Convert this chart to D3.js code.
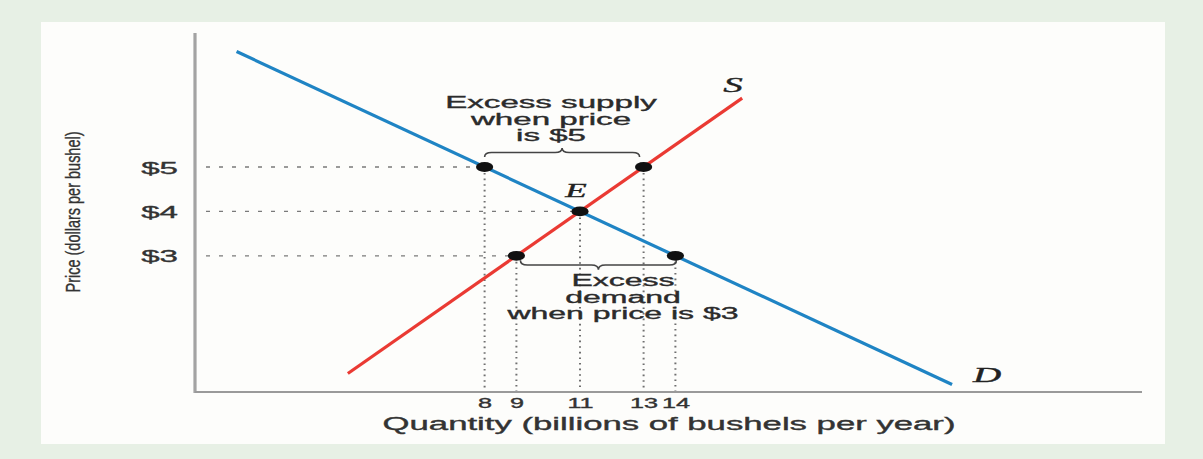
<!DOCTYPE html>
<html>
<head>
<meta charset="utf-8">
<script src="https://cdn.jsdelivr.net/npm/d3@7"></script>
<style>
  html, body { margin: 0; padding: 0; background: #e7f0e5; }
  svg { display: block; }
</style>
</head>
<body>
<svg id="chart" width="1203" height="459"></svg>
<script>
// Market for wheat: supply, demand and the surplus / shortage at off-equilibrium prices
const prices = [3, 4, 5];
const priceLabels = ["$3", "$4", "$5"];
const qtyTicks = [8, 9, 11, 13, 14];

// quantity supplied and demanded at $3, $4, $5
const supplyQty = [9, 11, 13];
const demandQty = [14, 11, 8];

// end points of the drawn curves {q: quantity, p: price}
const supplyLine = [{ q: 3.7, p: 0.35 }, { q: 16.1, p: 6.55 }];
const demandLine = [{ q: 0.2, p: 7.6 }, { q: 22.7, p: 0.1 }];

// brace spans: [from quantity, to quantity, at price]
const surplusSpan = [8, 13, 5];
const shortageSpan = [9, 14, 3];

const surplusText = ["Excess supply", "when price", "is $5"];
const shortageText = ["Excess", "demand", "when price is $3"];

const SX = 1.95;            // horizontal stretch of the lettering
const W = 1203, H = 459;
const frame = { left: 195, top: 33, right: 1142, bottom: 392 };

const svg = d3.select("#chart");

// backdrop and white card
svg.append("rect").attr("width", W).attr("height", H).attr("fill", "#e7f0e5");
svg.append("rect").attr("x", 41).attr("y", 22).attr("width", 1124).attr("height", 422).attr("fill", "#fdfdfb");

const x = d3.scaleLinear().domain([0, 25]).range([230.2, 1025.2]);
const y = d3.scaleLinear().domain([0, 8]).range([389, 33.8]);

const sans = "'Liberation Sans', Arial, sans-serif";
const serif = "'Liberation Serif', 'Times New Roman', serif";

// stretched text helper
function stretchedText(g, tx, ty, str, opts) {
  const o = Object.assign({ size: 16, anchor: "middle", family: sans, style: "normal", fill: "#2b2b2b", sx: SX }, opts || {});
  return g.append("text")
    .attr("transform", `translate(${tx},${ty}) scale(${o.sx},1)`)
    .attr("text-anchor", o.anchor)
    .attr("font-family", o.family)
    .attr("font-style", o.style)
    .attr("font-size", o.size)
    .attr("fill", o.fill)
    .attr("stroke", o.fill)
    .attr("stroke-width", 0.35)
    .text(str);
}

// guide lines ---------------------------------------------------------
const pts = [];
prices.forEach((p, i) => {
  pts.push({ q: supplyQty[i], p });
  pts.push({ q: demandQty[i], p });
});
const uniq = [];
pts.forEach(d => { if (!uniq.find(u => u.q === d.q && u.p === d.p)) uniq.push(d); });

const guides = svg.append("g");
// horizontal dotted lines from the price axis to the first point at each price
guides.selectAll("line.h").data(prices).join("line")
  .attr("class", "h")
  .attr("x1", frame.left + 11)
  .attr("x2", (p, i) => x(Math.min(supplyQty[i], demandQty[i])))
  .attr("y1", p => y(p)).attr("y2", p => y(p))
  .attr("stroke", "#7a7a7a").attr("stroke-width", 1.3)
  .attr("stroke-dasharray", "4,9");

// vertical dotted lines down to the quantity axis
guides.selectAll("line.v").data(uniq).join("line")
  .attr("class", "v")
  .attr("x1", d => x(d.q)).attr("x2", d => x(d.q))
  .attr("y1", d => y(d.p) + 6).attr("y2", frame.bottom)
  .attr("stroke", "#6f6f6f").attr("stroke-width", 2)
  .attr("stroke-dasharray", "1.6,4");

// axes ------------------------------------------------------------------
svg.append("line")
  .attr("x1", frame.left).attr("x2", frame.left)
  .attr("y1", frame.top).attr("y2", frame.bottom + 1)
  .attr("stroke", "#a3a3a3").attr("stroke-width", 3.2);
svg.append("line")
  .attr("x1", frame.left).attr("x2", frame.right)
  .attr("y1", frame.bottom).attr("y2", frame.bottom)
  .attr("stroke", "#9a9a9a").attr("stroke-width", 1.8);

const yAxis = svg.append("g")
  .attr("transform", `translate(${frame.left},0)`)
  .call(d3.axisLeft(y).tickValues(prices).tickSize(0).tickFormat((d, i) => priceLabels[i]));
yAxis.select(".domain").remove();
yAxis.selectAll("text")
  .attr("x", -17 / SX)
  .attr("dy", "0.36em")
  .attr("transform", `scale(${SX},1)`)
  .attr("font-family", sans)
  .attr("font-size", 17)
  .attr("fill", "#333").attr("stroke", "#333").attr("stroke-width", 0.35);

const TICK_SX = 1.8;
const xAxis = svg.append("g")
  .attr("transform", `translate(0,${frame.bottom})`)
  .call(d3.axisBottom(x).tickValues(qtyTicks).tickSize(0));
xAxis.select(".domain").remove();
xAxis.selectAll("text")
  .attr("y", 6)
  .attr("dy", "0.71em")
  .attr("x", 0)
  .attr("transform", `scale(${TICK_SX},1)`)
  .attr("font-family", sans)
  .attr("font-size", 14)
  .attr("fill", "#333").attr("stroke", "#333").attr("stroke-width", 0.35);

// axis titles
stretchedText(svg, 669, 430, "Quantity (billions of bushels per year)", { size: 17.8, fill: "#333" });
svg.append("text")
  .attr("transform", "translate(80,212) scale(1.45,1) rotate(-90)")
  .attr("text-anchor", "middle")
  .attr("font-family", sans)
  .attr("font-size", 14.5)
  .attr("fill", "#333").attr("stroke", "#333").attr("stroke-width", 0.25)
  .text("Price (dollars per bushel)");

// curves ------------------------------------------------------------------
const lineGen = d3.line().x(d => x(d.q)).y(d => y(d.p));
svg.append("path").datum(demandLine)
  .attr("d", lineGen).attr("fill", "none")
  .attr("stroke", "#1f84c4").attr("stroke-width", 3.2);
svg.append("path").datum(supplyLine)
  .attr("d", lineGen).attr("fill", "none")
  .attr("stroke", "#ea3a33").attr("stroke-width", 3.2);

// braces ------------------------------------------------------------------
function bracePath(x1, x2, y0, h) {
  const xm = (x1 + x2) / 2, ym = y0 + h / 2, r = 7;
  return `M${x1},${y0} Q${x1},${ym} ${x1 + r},${ym} L${xm - r},${ym} Q${xm},${ym} ${xm},${y0 + h}` +
         ` Q${xm},${ym} ${xm + r},${ym} L${x2 - r},${ym} Q${x2},${ym} ${x2},${y0}`;
}
svg.append("path")
  .attr("d", bracePath(x(surplusSpan[0]), x(surplusSpan[1]) - 4, y(surplusSpan[2]) - 10, -9))
  .attr("fill", "none").attr("stroke", "#444").attr("stroke-width", 1.6);
svg.append("path")
  .attr("d", bracePath(x(shortageSpan[0]) + 4, x(shortageSpan[1]) + 1, y(shortageSpan[2]) + 4.5, 9.5))
  .attr("fill", "none").attr("stroke", "#444").attr("stroke-width", 1.6);

// points ------------------------------------------------------------------
svg.append("g").selectAll("ellipse").data(uniq).join("ellipse")
  .attr("cx", d => x(d.q)).attr("cy", d => y(d.p))
  .attr("rx", 8.6).attr("ry", 4.9)
  .attr("fill", "#111");

// annotations ---------------------------------------------------------------
const ann = svg.append("g");
surplusText.forEach((t, i) => stretchedText(ann, 551, 108 + i * 16.5, t, { size: 16, sx: 2.07 }));
shortageText.forEach((t, i) => stretchedText(ann, 623, 286 + i * 16.5, t, { size: 16, sx: 2.0 }));

stretchedText(ann, 576, 197, "E", { size: 18, family: serif, style: "italic", fill: "#222" });
stretchedText(ann, 733, 92, "S", { size: 20, family: serif, style: "italic", fill: "#222" });
stretchedText(ann, 987, 382, "D", { size: 20, family: serif, style: "italic", fill: "#222" });
</script>
</body>
</html>
